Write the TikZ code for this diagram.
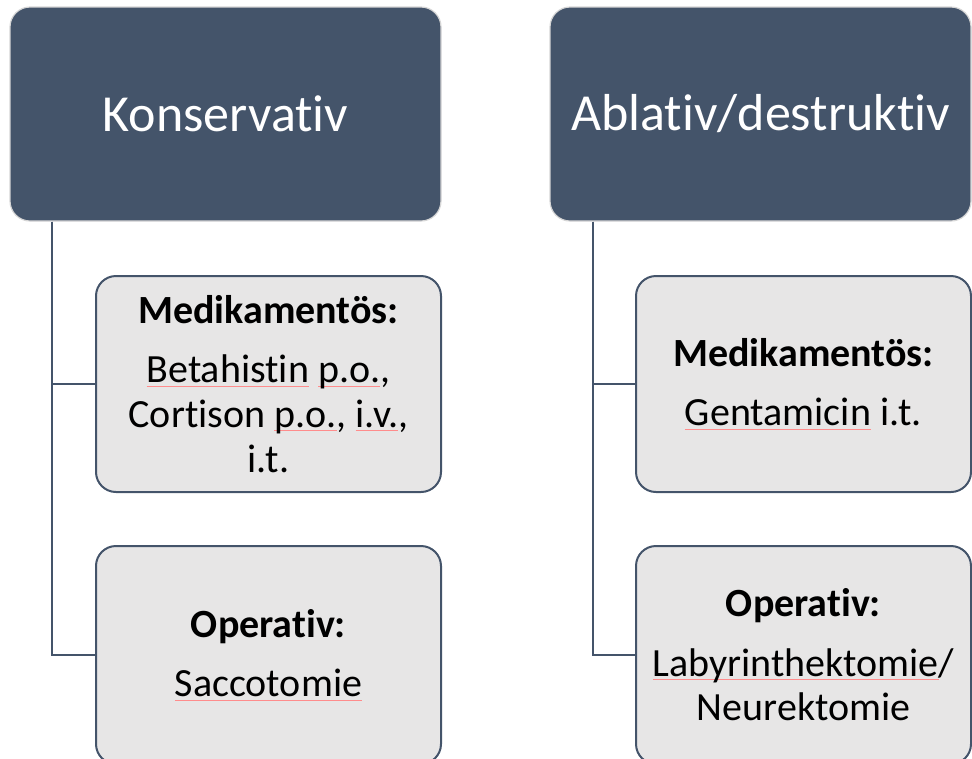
\documentclass[tikz,border=0pt]{standalone}
\usepackage{fontspec}
\setmainfont{Carlito}[RawFeature={-liga;-clig}]
\definecolor{slate}{HTML}{44546A}
\definecolor{lightfill}{HTML}{E7E6E6}
\definecolor{edgegray}{HTML}{D6D6D6}
\newcommand\spellmark[1]{\setbox0\hbox{#1}\rlap{\textcolor{red!45}{\rule[-2.6pt]{\wd0}{0.5pt}}}\box0\relax}
\tikzset{
  titlebox/.style={draw=edgegray, line width=0.9pt, fill=slate, rounded corners=15pt,
    text=white, font={\fontsize{39}{47}\selectfont}, inner sep=0pt, align=center},
  subbox/.style={draw=slate, line width=1.5pt, fill=lightfill, rounded corners=15pt,
    text=black, font={\fontsize{30}{33.5}\selectfont}, inner sep=0pt, align=center},
  conn/.style={draw=slate, line width=1.5pt}
}
\begin{document}
\begin{tikzpicture}[x=0.75pt,y=-0.75pt]
\useasboundingbox (0,0) rectangle (972,758);
% top boxes
\node[titlebox, minimum width=431*0.75pt, minimum height=214*0.75pt] (K) at (225.5,114) {Konservativ};
\node[titlebox, minimum width=421*0.75pt, minimum height=214*0.75pt] (A) at (760.5,114) {Ablativ/destruktiv};
% child boxes
\node[subbox, minimum width=345*0.75pt, minimum height=216*0.75pt] (LM) at (268.5,384)
  {\textbf{Medikamentös:}\\[11pt]\spellmark{Betahistin} \spellmark{p.o.},\\Cortison \spellmark{p.o.}, \spellmark{i.v.},\\i.t.};
\node[subbox, minimum width=345*0.75pt, minimum height=218*0.75pt] (LO) at (268.5,655)
  {\textbf{Operativ:}\\[11pt]\spellmark{Saccotomie}};
\node[subbox, minimum width=335*0.75pt, minimum height=216*0.75pt] (RM) at (803.5,384)
  {\textbf{Medikamentös:}\\[11pt]\spellmark{Gentamicin} i.t.};
\node[subbox, minimum width=335*0.75pt, minimum height=218*0.75pt] (RO) at (803.5,655)
  {\textbf{Operativ:}\\[11pt]\spellmark{Labyrinthektomie}/\\Neurektomie};
% connectors
\coordinate (Kt) at ([xshift=43*0.75pt]K.south west);
\coordinate (At) at ([xshift=44*0.75pt]A.south west);
\draw[conn] (Kt) |- (LM.west);
\draw[conn] (Kt) |- (LO.west);
\draw[conn] (At) |- (RM.west);
\draw[conn] (At) |- (RO.west);
\end{tikzpicture}
\end{document}
